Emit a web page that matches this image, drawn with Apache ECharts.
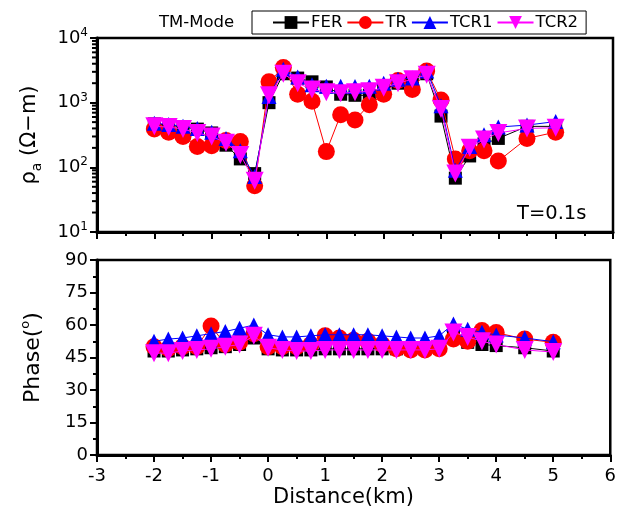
<!DOCTYPE html>
<html><head><meta charset="utf-8">
<script src="https://cdn.jsdelivr.net/npm/echarts@6/dist/echarts.min.js"></script>
<style>html,body{margin:0;padding:0;background:#fff}#c{width:619px;height:511px}</style>
</head><body><div id="c"></div>
<script>
const distance = [-2,-1.75,-1.5,-1.25,-1,-0.75,-0.5,-0.25,0,0.25,0.5,0.75,1,1.25,1.5,1.75,2,2.25,2.5,2.75,3,3.25,3.5,3.75,4,4.5,5];
const rhoFER  = [470,450,420,390,340,220,135,80,1000,2800,2400,2100,1750,1350,1300,1300,1600,2000,2400,2800,620,68,150,230,280,430,430];
const rhoTR   = [390,350,300,210,215,260,250,52,2100,3500,1350,1050,175,650,540,930,1350,2200,1600,3100,1100,135,180,180,125,280,350];
const rhoTCR1 = [480,460,430,400,350,280,180,72,1250,3300,2500,1900,1800,1800,1780,1800,2000,2300,2400,3100,900,90,210,320,420,450,510];
const rhoTCR2 = [430,420,390,340,300,240,155,62,1300,2800,2000,1600,1450,1400,1450,1500,1700,2000,2300,2700,800,80,200,270,340,400,410];
const phFER  = [48,48,48.5,49,49.5,50,51,54,49,48.5,48.5,48.5,49,49,49,49,49,49,49,49,50,55,52,51,50.5,49.5,48];
const phTR   = [50,49,50,50,59.5,51,52,56,50,50,50,51,55,54,53,52.5,51,49,48.5,48.5,49,53.5,52.5,57.5,56.5,53.5,52];
const phTCR1 = [52.5,53.5,54,55,56,57,58.5,60,55.5,54.5,54.5,55,55.5,55.5,55.5,55.5,55,54.5,54,54,55,60.5,58,56.6,55.4,54,52.3];
const phTCR2 = [47,47,48,48.5,49,50,51,55,49.5,48.5,48,48,48.5,48.5,48.5,48.5,48.5,48.5,48.5,48.5,49,56.5,54.5,52.5,51,48.5,47.5];
const seriesNames = ['FER','TR','TCR1','TCR2'];
const xTicks = {min:-3, max:6, interval:1};
const phTicks = {min:0, max:90, interval:15};
const rhoRange = {min:10, max:10000};

const FONT = 'DejaVu Sans, sans-serif';
const colors = ['#000000','#ff0000','#0000ff','#ff00ff'];
const symbols = ['rect','circle','triangle','path://M0,0L2,0L1,1.732Z'];
const sizes = [13,17,15,18];
const chart = echarts.init(document.getElementById('c'));

function zip(xs, ys){ return xs.map((x,i)=>[x,ys[i]]); }
const rhoData = [rhoFER, rhoTR, rhoTCR1, rhoTCR2];
const phData = [phFER, phTR, phTCR1, phTCR2];

const series = [];
seriesNames.forEach((n,i)=>{
  series.push({name:n, type:'line', xAxisIndex:0, yAxisIndex:0, data:zip(distance, rhoData[i]),
    symbol:symbols[i], symbolSize:sizes[i], showAllSymbol:true, z:2+i,
    lineStyle:{color:colors[i], width:1}, itemStyle:{color:colors[i], opacity:1}, animation:false});
  series.push({name:n, type:'line', xAxisIndex:1, yAxisIndex:1, data:zip(distance, phData[i]),
    symbol:symbols[i], symbolSize:sizes[i], showAllSymbol:true, z:2+i,
    lineStyle:{color:colors[i], width:1}, itemStyle:{color:colors[i], opacity:1}, animation:false});
});

const axisCommon = {
  axisLine:{show:true, onZero:false, lineStyle:{color:'#000', width:3}},
  axisTick:{show:true, inside:false, length:7, lineStyle:{color:'#000', width:2}},
  splitLine:{show:false},
  axisLabel:{color:'#000', fontFamily:FONT, fontSize:18}
};
const minor = {show:true, splitNumber:2, length:4, lineStyle:{color:'#000', width:2}};

const option = {
  backgroundColor:'#fff',
  animation:false,
  textStyle:{fontFamily:FONT},
  legend:{
    data:seriesNames, left:252, top:11, orient:'horizontal',
    padding:[3,8,3,20], itemWidth:36, itemHeight:16, itemGap:4,
    borderColor:'#000', borderWidth:1, borderRadius:0,
    textStyle:{color:'#000', fontFamily:FONT, fontSize:16.5, padding:[0,0,0,-3]}
  },
  grid:[
    {left:97, right:6, top:38, height:194, show:true, borderColor:'#000', borderWidth:2.5},
    {left:97, right:6, top:260, height:195, show:true, borderColor:'#000', borderWidth:2.5}
  ],
  xAxis:[
    Object.assign({}, axisCommon, {type:'value', gridIndex:0, min:xTicks.min, max:xTicks.max, interval:xTicks.interval,
      minorTick:minor, axisLabel:{show:false}}),
    Object.assign({}, axisCommon, {type:'value', gridIndex:1, min:xTicks.min, max:xTicks.max, interval:xTicks.interval,
      minorTick:minor,
      axisLabel:{color:'#000', fontFamily:FONT, fontSize:18, margin:12}})
  ],
  yAxis:[
    Object.assign({}, axisCommon, {type:'log', gridIndex:0, min:rhoRange.min, max:rhoRange.max, logBase:10,
      axisLabel:{margin:9, formatter:function(v){ return '{b|10}{s|'+Math.round(Math.log10(v))+'}'; },
        rich:{b:{fontFamily:FONT, fontSize:18, color:'#000', lineHeight:22},
              s:{fontFamily:FONT, fontSize:12, color:'#000', lineHeight:12, verticalAlign:'top'}}},
      name:'{r|ρ}{sub|a}{r| (Ω−m)}', nameLocation:'middle', nameGap:53, nameRotate:90,
      nameTextStyle:{rich:{r:{fontFamily:FONT, fontSize:21, color:'#000', lineHeight:28},
                           sub:{fontFamily:FONT, fontSize:14, color:'#000', lineHeight:15, verticalAlign:'bottom'}}}}),
    Object.assign({}, axisCommon, {type:'value', gridIndex:1, min:phTicks.min, max:phTicks.max, interval:phTicks.interval,
      minorTick:minor,
      axisLabel:{color:'#000', fontFamily:FONT, fontSize:18, margin:9},
      name:'{r|Phase(}{sup|o}{r|)}', nameLocation:'middle', nameGap:50, nameRotate:90,
      nameTextStyle:{rich:{r:{fontFamily:FONT, fontSize:22, color:'#000', lineHeight:28},
                           sup:{fontFamily:FONT, fontSize:13, color:'#000', lineHeight:14, verticalAlign:'top'}}}})
  ],
  series:series
};
chart.setOption(option);

// log minor ticks
const g = [];
const x0 = chart.convertToPixel({xAxisIndex:0}, xTicks.min);
for (let d = 10; d < 10000; d *= 10) {
  for (let k = 2; k <= 9; k++) {
    const y = chart.convertToPixel({yAxisIndex:0}, d*k);
    g.push({type:'line', shape:{x1:x0-5, y1:y, x2:x0, y2:y}, style:{stroke:'#000', lineWidth:2}, z:10});
  }
}
g.push({type:'text', left:159, top:14, style:{text:'TM-Mode', fontFamily:FONT, fontSize:16.5, fill:'#000'}});
g.push({type:'text', left:517, top:204, style:{text:'T=0.1s', fontFamily:FONT, fontSize:19.5, fill:'#000'}});
g.push({type:'text', left:273, top:487, style:{text:'Distance(km)', fontFamily:FONT, fontSize:21, fill:'#000'}});
chart.setOption({graphic:g});
</script>
</body></html>
